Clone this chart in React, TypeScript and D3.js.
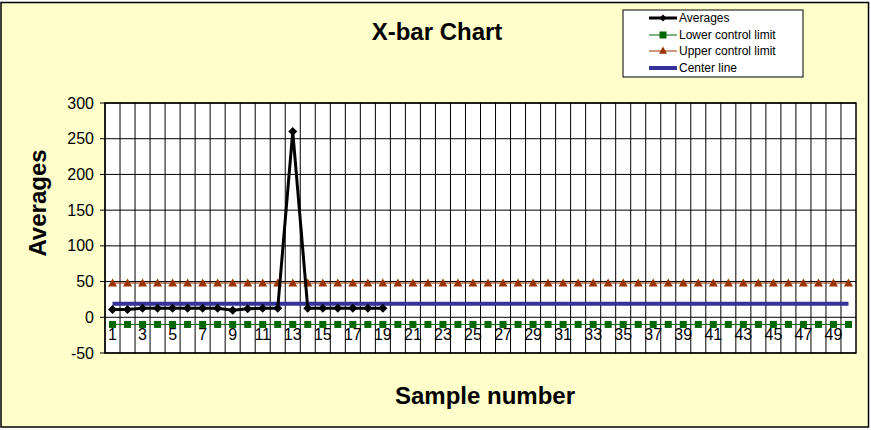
import React from "react";
import * as d3 from "d3";

const categories = [
  "1","2","3","4","5","6","7","8","9","10",
  "11","12","13","14","15","16","17","18","19","20",
  "21","22","23","24","25","26","27","28","29","30",
  "31","32","33","34","35","36","37","38","39","40",
  "41","42","43","44","45","46","47","48","49","50",
];
const averages = [11, 11, 12.5, 12.5, 12.5, 12.5, 12.5, 12.5, 10, 12, 12.5, 12.5, 260, 12.5, 12.5, 12.5, 12.5, 12.5, 12.5];
const lowerLimit = [
  -10,-10,-10,-10,-10,-10,-10,-10,-10,-10,
  -10,-10,-10,-10,-10,-10,-10,-10,-10,-10,
  -10,-10,-10,-10,-10,-10,-10,-10,-10,-10,
  -10,-10,-10,-10,-10,-10,-10,-10,-10,-10,
  -10,-10,-10,-10,-10,-10,-10,-10,-10,-10,
];
const upperLimit = [
  48,48,48,48,48,48,48,48,48,48,
  48,48,48,48,48,48,48,48,48,48,
  48,48,48,48,48,48,48,48,48,48,
  48,48,48,48,48,48,48,48,48,48,
  48,48,48,48,48,48,48,48,48,48,
];
const centerLine = [
  19,19,19,19,19,19,19,19,19,19,
  19,19,19,19,19,19,19,19,19,19,
  19,19,19,19,19,19,19,19,19,19,
  19,19,19,19,19,19,19,19,19,19,
  19,19,19,19,19,19,19,19,19,19,
];
const yTicks = [-50, 0, 50, 100, 150, 200, 250, 300];
const legendItems = ["Averages", "Lower control limit", "Upper control limit", "Center line"];

const FONT = "Arial, 'Liberation Sans', Helvetica, sans-serif";
const W = 871, H = 430;
const PL = 105, PR = 856, PT = 103, PB = 353;
const C_AVG = "#000000", C_LCL = "#006600", C_UCL = "#993300", C_CL = "#333399";

export default function App() {
  const x = d3.scaleBand<string>().domain(categories).range([PL, PR]).paddingInner(0).paddingOuter(0);
  const bw = x.bandwidth();
  const cx = (i: number) => (x(categories[i]) as number) + bw / 2;
  const y = d3.scaleLinear().domain([-50, 300]).range([PB, PT]);

  const line = d3.line<number>().x((_, i) => cx(i)).y((d) => y(d));

  const diamond = (px: number, py: number, r: number) =>
    `M${px},${py - r}L${px + r},${py}L${px},${py + r}L${px - r},${py}Z`;
  const tri = (px: number, py: number, r: number) =>
    `M${px},${py - r}L${px + r},${py + r * 0.8}L${px - r},${py + r * 0.8}Z`;

  const legendX = 623, legendY = 10, legendW = 180, legendH = 67;
  const rowY = [18, 35, 51, 68];

  return (
    <svg width={W} height={H} style={{ position: "absolute", left: 0, top: 0, background: "#ffffff" }}>
      <rect x={1} y={2.5} width={867.5} height={424.5} fill="#FFFFCC" stroke="#000" strokeWidth={1.5} />
      <rect x={PL} y={PT} width={PR - PL} height={PB - PT} fill="#fff" stroke="none" />
      {categories.map((c) => (
        <line key={"v" + c} x1={x(c) as number} x2={x(c) as number} y1={PT} y2={PB} stroke="#000" strokeWidth={1} />
      ))}
      {yTicks.map((t) => (
        <line key={"h" + t} x1={PL} x2={PR} y1={y(t)} y2={y(t)} stroke="#000" strokeWidth={1} />
      ))}
      <rect x={PL} y={PT} width={PR - PL} height={PB - PT} fill="none" stroke="#000" strokeWidth={1.5} />
      {yTicks.map((t) => (
        <g key={"yt" + t}>
          <line x1={PL - 5} x2={PL} y1={y(t)} y2={y(t)} stroke="#000" strokeWidth={1} />
          <text x={94} y={y(t)} dy="0.35em" textAnchor="end" fontFamily={FONT} fontSize={16} fill="#000">{t}</text>
        </g>
      ))}
      {categories.map((c, i) =>
        i % 2 === 0 ? (
          <text key={"xl" + c} x={cx(i)} y={340} textAnchor="middle" fontFamily={FONT} fontSize={16} fill="#000">{c}</text>
        ) : null
      )}
      <path d={line(upperLimit) || ""} fill="none" stroke={C_UCL} strokeWidth={1} />
      {upperLimit.map((v, i) => (
        <path key={"u" + i} d={tri(cx(i), y(v), 4.5)} fill={C_UCL} />
      ))}
      <path d={line(lowerLimit) || ""} fill="none" stroke={C_LCL} strokeWidth={1} />
      {lowerLimit.map((v, i) => (
        <rect key={"l" + i} x={cx(i) - 3.5} y={y(v) - 3.5} width={7} height={7} fill={C_LCL} />
      ))}
      <path d={line(centerLine) || ""} fill="none" stroke={C_CL} strokeWidth={4} />
      <path d={line(averages) || ""} fill="none" stroke={C_AVG} strokeWidth={3} strokeLinejoin="round" />
      {averages.map((v, i) => (
        <path key={"a" + i} d={diamond(cx(i), y(v), 4.5)} fill={C_AVG} />
      ))}
      <text x={437} y={40} textAnchor="middle" fontFamily={FONT} fontWeight="bold" fontSize={24} fill="#000">X-bar Chart</text>
      <text x={485} y={404} textAnchor="middle" fontFamily={FONT} fontWeight="bold" fontSize={24} fill="#000">Sample number</text>
      <text transform={`translate(46,203) rotate(-90)`} textAnchor="middle" fontFamily={FONT} fontWeight="bold" fontSize={24} fill="#000">Averages</text>
      <rect x={legendX} y={legendY} width={legendW} height={legendH} fill="#fff" stroke="#000" strokeWidth={1} />
      {legendItems.map((name, i) => {
        const ly = rowY[i];
        const x1 = 649, x2 = 677, mx = 663;
        let sample: React.ReactNode = null;
        if (i === 0) {
          sample = (<g><line x1={x1} x2={x2} y1={ly} y2={ly} stroke={C_AVG} strokeWidth={3} /><path d={diamond(mx, ly, 3.5)} fill={C_AVG} /></g>);
        } else if (i === 1) {
          sample = (<g><line x1={x1} x2={x2} y1={ly} y2={ly} stroke={C_LCL} strokeWidth={1} /><rect x={mx - 3.5} y={ly - 3.5} width={7} height={7} fill={C_LCL} /></g>);
        } else if (i === 2) {
          sample = (<g><line x1={x1} x2={x2} y1={ly} y2={ly} stroke={C_UCL} strokeWidth={1} /><path d={tri(mx, ly - 0.5, 4)} fill={C_UCL} /></g>);
        } else {
          sample = (<line x1={x1} x2={x2} y1={ly} y2={ly} stroke={C_CL} strokeWidth={4} />);
        }
        return (
          <g key={name}>
            {sample}
            <text x={679} y={ly} dy="0.35em" fontFamily={FONT} fontSize={12} fill="#000">{name}</text>
          </g>
        );
      })}
    </svg>
  );
}
